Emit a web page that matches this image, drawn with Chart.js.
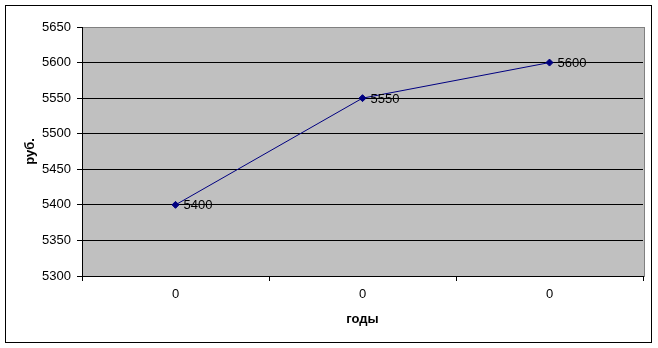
<!DOCTYPE html>
<html>
<head>
<meta charset="utf-8">
<script src="https://cdn.jsdelivr.net/npm/chart.js@4/dist/chart.umd.min.js"></script>
<style>
  html, body { margin: 0; padding: 0; background: #fff; }
  #wrap { position: relative; width: 658px; height: 348px; }
</style>
</head>
<body>
<div id="wrap"><canvas id="chart"></canvas></div>
<script>
// data
var categories = ["0", "0", "0"];
var values = [5400, 5550, 5600];
var yTitle = "руб.";
var xTitle = "годы";
var yMin = 5300;
var yMax = 5650;
var yStep = 50;

var FONT = "'Liberation Sans', Arial, sans-serif";

// gray plot area and the outer frame
var backdrop = {
  id: "backdrop",
  beforeDraw: function (chart) {
    var c = chart.ctx;
    var a = chart.chartArea;
    c.save();
    c.fillStyle = "#fff";
    c.fillRect(0, 0, chart.width, chart.height);
    c.fillStyle = "#c0c0c0";
    c.fillRect(a.left, a.top, a.right - a.left + 1, a.bottom - a.top);
    c.strokeStyle = "#808080";
    c.lineWidth = 1;
    c.strokeRect(a.left + 0.5, a.top + 0.5, a.right - a.left + 1, a.bottom - a.top);
    c.strokeStyle = "#000";
    c.strokeRect(5.5, 5.5, 646, 337);
    c.restore();
  }
};

// value labels to the right of each point
var pointLabels = {
  id: "pointLabels",
  afterDatasetsDraw: function (chart) {
    var c = chart.ctx;
    var meta = chart.getDatasetMeta(0);
    c.save();
    c.font = "13px " + FONT;
    c.fillStyle = "#000";
    c.textAlign = "left";
    c.textBaseline = "middle";
    meta.data.forEach(function (pt, i) {
      c.fillText(String(values[i]), pt.x + 8, pt.y + 1);
    });
    c.restore();
  }
};

new Chart(document.getElementById("chart"), {
  type: "line",
  data: {
    labels: categories,
    datasets: [
      {
        data: values,
        borderColor: "#000080",
        backgroundColor: "#000080",
        borderWidth: 1,
        pointStyle: "rectRot",
        pointRadius: 3.5,
        pointHoverRadius: 3.5,
        tension: 0,
        fill: false
      }
    ]
  },
  options: {
    responsive: true,
    maintainAspectRatio: false,
    animation: false,
    events: [],
    layout: { padding: { left: 6, top: 27, right: 15, bottom: 6 } },
    plugins: {
      legend: { display: false },
      tooltip: { enabled: false }
    },
    scales: {
      x: {
        offset: true,
        afterFit: function (s) { s.height = 66; },
        border: { display: true, color: "#000", width: 1 },
        grid: {
          offset: true,
          drawOnChartArea: false,
          drawTicks: true,
          tickLength: 5,
          color: "#000"
        },
        ticks: {
          color: "#000",
          padding: 6,
          maxRotation: 0,
          font: { family: FONT, size: 13 }
        },
        title: {
          display: true,
          text: xTitle,
          color: "#000",
          padding: { top: 15, bottom: 15 },
          font: { family: FONT, size: 13, weight: "bold" }
        }
      },
      y: {
        min: yMin,
        max: yMax,
        afterFit: function (s) { s.width = 76; },
        border: { display: true, color: "#000", width: 1 },
        grid: {
          drawTicks: true,
          tickLength: 5,
          tickColor: "#000",
          color: function (ctx) {
            return ctx.tick && ctx.tick.value === yMax ? "rgba(0,0,0,0)" : "#000";
          }
        },
        ticks: {
          stepSize: yStep,
          color: "#000",
          padding: 6,
          font: { family: FONT, size: 13 },
          callback: function (v) { return String(v); }
        },
        title: {
          display: true,
          text: yTitle,
          color: "#000",
          padding: { top: 17, bottom: 17 },
          font: { family: FONT, size: 13, weight: "bold" }
        }
      }
    }
  },
  plugins: [backdrop, pointLabels]
});
</script>
</body>
</html>
